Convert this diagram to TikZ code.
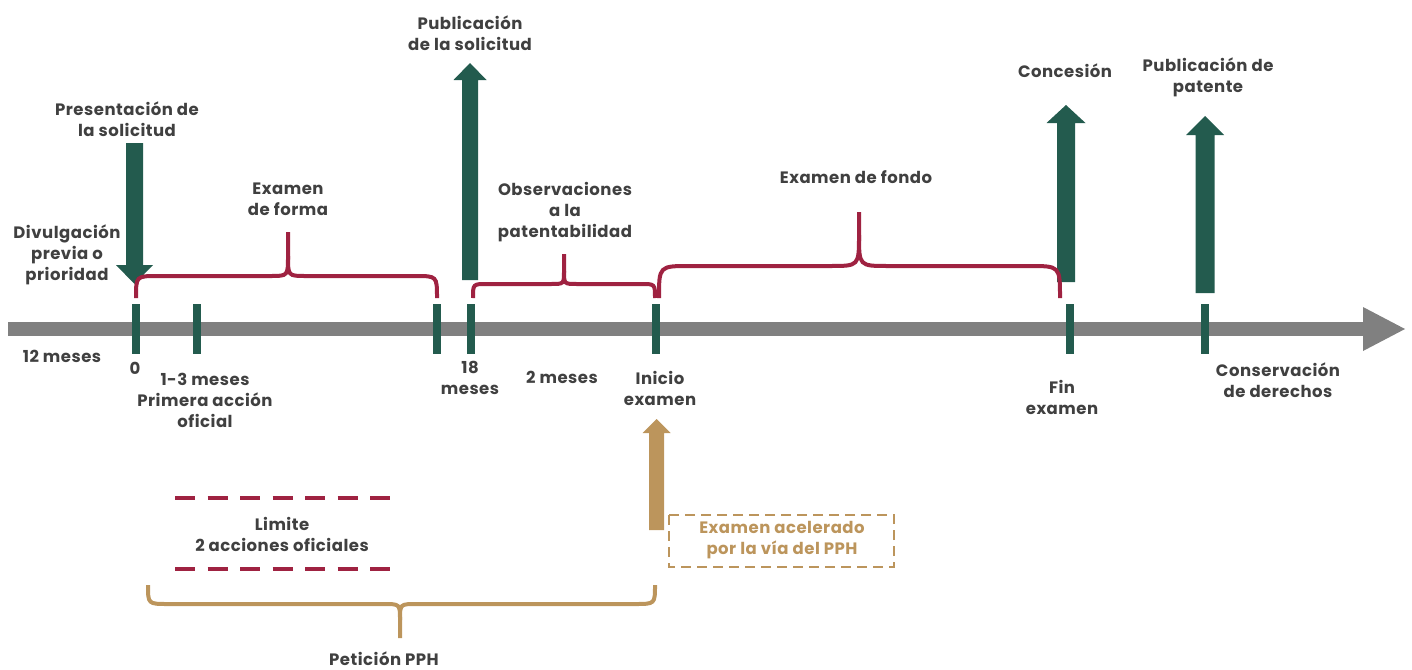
\documentclass[tikz,border=0pt]{standalone}
\usepackage{fontspec}
\setmainfont{Poppins}[LetterSpace=3]
\definecolor{tlgreen}{HTML}{235B4E}
\definecolor{tlmaroon}{HTML}{9F2241}
\definecolor{tlgold}{HTML}{BC955C}
\definecolor{tlgray}{HTML}{808080}
\definecolor{tltext}{HTML}{404040}
\tikzset{
  lbl/.style={font=\bfseries\fontsize{16.5}{21}\selectfont, text=tltext, align=center, inner sep=0pt},
  goldlbl/.style={lbl, text=tlgold},
  tickmark/.style={draw=tlgreen, line width=8pt},
  mbrace/.style={draw=tlmaroon, line width=4pt},
  gbrace/.style={draw=tlgold, line width=4pt},
  mdash/.style={draw=tlmaroon, line width=4pt, dash pattern=on 20pt off 12.5pt},
  gbox/.style={draw=tlgold, line width=2.5pt, dash pattern=on 10pt off 6pt}
}
\begin{document}
\begin{tikzpicture}[x=1pt,y=-1pt]
\useasboundingbox (0,0) rectangle (1412,669);
% timeline bar
\fill[tlgray] (8,322) rectangle (1364,336);
\fill[tlgray] (1363,307) -- (1405,329) -- (1363,351) -- cycle;
\coordinate (tlend) at (1405,329);
% ticks
\foreach \x/\n in {136/t0,197/t1,437/t2,471/t3,656/t4,1070/t5,1205/t6}{
  \coordinate (\n) at (\x,329);
  \draw[tickmark] (\x,304) -- (\x,354);
}
% green arrows
\fill[tlgreen] (126,143) -- (143,143) -- (143,265) -- (153,265) -- (134.5,284) -- (116,265) -- (126,265) -- cycle;
\fill[tlgreen] (462,280) -- (462,80) -- (453.5,80) -- (470,63) -- (486.5,80) -- (478,80) -- (478,280) -- cycle;
\fill[tlgreen] (1057,282) -- (1057,123) -- (1046.5,123) -- (1066,105) -- (1085.5,123) -- (1075,123) -- (1075,282) -- cycle;
\fill[tlgreen] (1195.5,293) -- (1195.5,135) -- (1186,135) -- (1205,116) -- (1224,135) -- (1214.5,135) -- (1214.5,293) -- cycle;
% gold arrow
\fill[tlgold] (649,530) -- (649,433) -- (642.5,433) -- (656.5,419) -- (670.5,433) -- (664,433) -- (664,530) -- cycle;
% maroon braces
\draw[mbrace] (136,298) .. controls (136,276) .. (158,276) -- (270,276) .. controls (288,276) .. (288,256) -- (288,232);
\draw[mbrace] (288,256) .. controls (288,276) .. (306,276) -- (415,276) .. controls (437,276) .. (437,298);
\draw[mbrace] (473,298) .. controls (473,284) .. (487,284) -- (551,284) .. controls (564,284) .. (564,271) -- (564,254);
\draw[mbrace] (564,271) .. controls (564,284) .. (577,284) -- (641,284) .. controls (655,284) .. (655,298);
\draw[mbrace] (659,298) .. controls (659,266) .. (690,266) -- (830,266) .. controls (859,266) .. (859,235) -- (859,212);
\draw[mbrace] (859,235) .. controls (859,266) .. (888,266) -- (1029,266) .. controls (1060,266) .. (1060,298);
% gold brace
\draw[gbrace] (148,585) .. controls (148,604) .. (168,604) -- (383,604) .. controls (400,604) .. (400,620) -- (400,638);
\draw[gbrace] (400,620) .. controls (400,604) .. (417,604) -- (635,604) .. controls (655,604) .. (655,585);
% dashed lines
\draw[mdash] (175,498) -- (391,498);
\draw[mdash] (175,569) -- (391,569);
\draw[gbox] (669,515) rectangle (894,567);
% labels
\node[lbl] (presentacion) at (127,119) {Presentación de\\la solicitud};
\node[lbl] (divulgacion) at (67,255) {Divulgación\\previa o\\prioridad};
\node[lbl] (doce) at (62,356) {12 meses};
\node[lbl] (cero) at (135,368) {0};
\node[lbl] (primera) at (205,400) {1-3 meses\\Primera acción\\oficial};
\node[lbl] (forma) at (288,199) {Examen\\de forma};
\node[lbl] (publicacion) at (470,33) {Publicación\\de la solicitud};
\node[lbl] (dieciocho) at (470,378) {18\\meses};
\node[lbl] (observaciones) at (565,212) {Observaciones\\a la\\patentabilidad};
\node[lbl] (dos) at (562,377) {2 meses};
\node[lbl] (inicio) at (660,388) {Inicio\\examen};
\node[lbl] (fondo) at (856,177) {Examen de fondo};
\node[lbl] (concesion) at (1065,71) {Concesión};
\node[lbl] (pubpatente) at (1208,77) {Publicación de\\patente};
\node[lbl] (fin) at (1062,397) {Fin\\examen};
\node[lbl] (conservacion) at (1278,380) {Conservación\\de derechos};
\node[lbl] (limite) at (282,534) {Limite\\2 acciones oficiales};
\node[goldlbl] (acelerado) at (782,540) {Examen acelerado\\por la vía del PPH};
\node[lbl] (peticion) at (384,659) {Petición PPH};
\end{tikzpicture}
\end{document}
